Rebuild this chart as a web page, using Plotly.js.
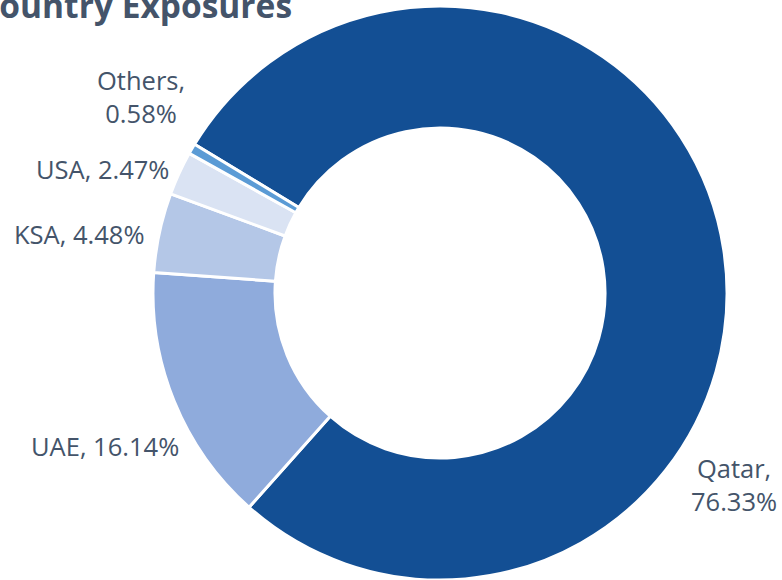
<!DOCTYPE html>
<html>
<head>
<meta charset="utf-8">
<script src="https://cdn.plot.ly/plotly-3.0.1.min.js"></script>
<style>
  html, body { margin: 0; padding: 0; background: #fff; }
  #chart { width: 782px; height: 580px; }
</style>
</head>
<body>
<div id="chart"></div>
<script>
// country exposures, clockwise from the top-left
var countries = ['Qatar', 'UAE', 'KSA', 'USA', 'Others'];
// percentages printed in the labels
var labelPct = [76.33, 16.14, 4.48, 2.47, 0.58];
// slice sizes as they are drawn in the picture (Qatar/UAE split reads a bit differently)
var sliceShare = [77.9, 14.55, 4.48, 2.47, 0.58];
var colors = ['#134F94', '#8FABDC', '#B4C7E7', '#DAE3F3', '#5B9BD5'];

var textColor = '#44546A';
var labelFont = {family: 'Open Sans, Noto Sans, sans-serif', size: 25.5, color: textColor};

// where each label sits (pixel centre), and whether it wraps after the comma
var labelPos = {
    Qatar:  {x: 734, y: 485, wrap: true},
    UAE:    {x: 105, y: 446, wrap: false},
    KSA:    {x: 79,  y: 234, wrap: false},
    USA:    {x: 102, y: 169, wrap: false},
    Others: {x: 141, y: 96,  wrap: true}
};

var W = 782, H = 580;
var cx = 440, cy = 295, R = 289;

var trace = {
    type: 'pie',
    labels: countries,
    values: sliceShare,
    sort: false,
    direction: 'clockwise',
    rotation: -58.8,
    hole: 0.575,
    textinfo: 'none',
    hoverinfo: 'label+percent',
    marker: {colors: colors, line: {color: '#ffffff', width: 3}},
    domain: {
        x: [(cx - R) / W, (cx + R) / W],
        y: [1 - (cy + R) / H, 1 - (cy - R) / H]
    },
    showlegend: false
};

var annotations = countries.map(function(c, i) {
    var p = labelPos[c];
    var txt = c + ',' + (p.wrap ? '<br>' : ' ') + labelPct[i].toFixed(2) + '%';
    return {
        xref: 'paper', yref: 'paper',
        x: p.x / W, y: 1 - p.y / H,
        xanchor: 'center', yanchor: 'middle',
        align: 'center',
        text: txt,
        showarrow: false,
        font: labelFont
    };
});

// title, cut off by the top-left corner of the frame
annotations.push({
    xref: 'paper', yref: 'paper',
    x: -24 / W, y: 1 - 30 / H,
    xanchor: 'left', yanchor: 'bottom',
    text: '<b>Country Exposures</b>',
    showarrow: false,
    font: {family: 'Open Sans, Noto Sans, sans-serif', size: 33.5, color: textColor}
});

var layout = {
    width: W,
    height: H,
    margin: {l: 0, r: 0, t: 0, b: 0},
    paper_bgcolor: '#ffffff',
    annotations: annotations
};

Plotly.newPlot('chart', [trace], layout, {displayModeBar: false, staticPlot: true});
</script>
</body>
</html>
